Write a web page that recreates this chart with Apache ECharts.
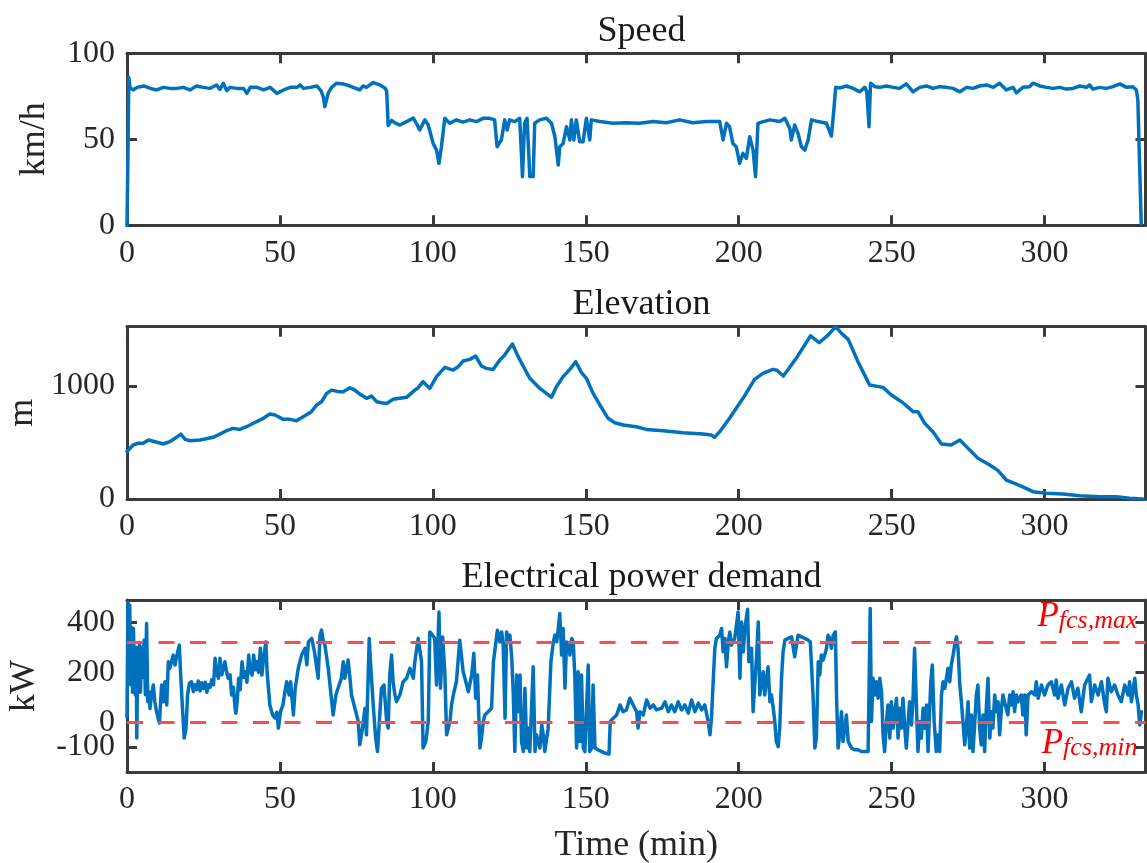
<!DOCTYPE html>
<html>
<head>
<meta charset="utf-8">
<script src="https://cdn.jsdelivr.net/npm/echarts@6.0.0/dist/echarts.min.js"></script>
<style>
  html, body { margin: 0; padding: 0; background: #ffffff; }
  #chart { width: 1147px; height: 863px; }
</style>
</head>
<body>
<div id="chart"></div>
<script>
// ---------------- DATA ----------------
const titles = ['Speed', 'Elevation', 'Electrical power demand'];
const yNames = ['km/h', 'm', 'kW'];
const xName = 'Time (min)';
const xTicks = [0, 50, 100, 150, 200, 250, 300];
const speedTicks = [0, 50, 100];
const elevTicks = [0, 1000];
const powerTicks = [-100, 0, 200, 400];
const pfcsMax = 320;
const pfcsMin = 0;

// [time (min), speed (km/h)]
const speedPoints = [
  [0,0],[0.3,40],[0.6,86],[1.0,80],[2.0,78.7],[3.3,80.2],[5.5,81],[7.6,79.6],[9.7,78.7],[11.9,80.2],
  [14.1,79.6],[16.2,79.6],[18.4,80.2],[20.6,78.7],[22.7,81],[24.9,80.2],[27.1,79.6],[29.3,81.6],[30.4,79],
  [31.5,82.6],[32.6,78.3],[33.7,80.2],[35.9,79.6],[38.1,79.6],[39.2,76.7],[40.3,80.2],[42.5,80.2],[44.7,78.7],
  [46.8,80.2],[49.0,76.7],[51.2,78.7],[53.4,80.2],[55.6,80.2],[56.6,81.6],[57.7,79.6],[59.9,80.2],[62.1,81],
  [63.5,78],[64.2,74.5],[64.7,69],[65.8,77],[66.9,80.2],[68.5,82.6],[70.7,82.2],[72.8,81],[73.9,80.2],
  [76.1,78.7],[77.2,81],[78.3,80.2],[80.5,83],[82.7,81.6],[84.4,79.7],[84.9,78],[85.4,58],[86.5,61],
  [87.6,59.5],[89.2,58.3],[91.4,60.3],[93.6,62.3],[94.6,59.3],[95.7,55.4],[97.4,61.3],[98.5,58.3],
  [100.1,47.6],[101.2,43.7],[102.0,36],[102.8,45.7],[103.9,62.2],[105.5,59.3],[107.7,61.3],[109.9,60],
  [112.1,61.3],[114.3,60.3],[116.4,62.2],[118.6,62.2],[120.2,61.3],[121.0,45.7],[122.4,49.6],[123.5,61.3],
  [124.3,55.4],[125.1,61.3],[126.8,60.3],[128.4,62.2],[129.0,40],[129.3,28.3],[130.0,59.3],[130.8,62.2],
  [131.4,40],[131.7,28.3],[132.8,28.3],[133.3,59.3],[134.9,61.3],[137.1,62.2],[138.8,59.3],[139.9,51.5],
  [141.0,35],[141.5,45.7],[142.6,47.6],[143.7,57.3],[144.8,49.6],[145.3,61.3],[146.1,49.6],[146.9,61.3],
  [148.0,48.6],[149.1,48.6],[150.2,62.2],[151.3,49.6],[151.8,61.3],[154.6,60.3],[158.9,59.3],[163.3,59.6],
  [167.6,59.3],[172.0,60.3],[176.3,59.6],[180.7,61.3],[185.0,59.6],[189.4,60.3],[193.8,60.3],[194.9,49.6],
  [196.0,59.3],[197.0,57.3],[198.1,47.6],[199.2,45.7],[200.3,36],[201.4,41.8],[202.5,38.9],[203.6,51.5],
  [204.7,43.7],[205.5,28.3],[206.3,59.3],[208.0,60.3],[210.2,61.3],[213.4,60.3],[215.1,62.2],[216.7,56.3],
  [217.2,49.6],[218.3,58.3],[219.4,53.4],[220.5,45.7],[221.6,43.7],[222.7,49.6],[223.8,61.3],[226.0,60.3],
  [228.7,59.3],[230.3,51.9],[231.1,67],[231.7,80.2],[233.0,79.8],[235.2,81],[237.4,79.6],[239.6,77.6],
  [241.2,80.2],[241.9,77.6],[242.6,57.3],[243.1,82.6],[244.5,80.6],[246.1,80.2],[248.3,81],[250.5,80.2],
  [252.6,79.6],[254.8,82.2],[257.0,77.6],[259.2,80.2],[261.4,81],[263.5,79.6],[265.7,80.6],[267.9,80.2],
  [270.1,79.6],[272.3,77.6],[274.5,80.2],[276.6,79.6],[278.8,81],[281.0,81.6],[283.2,80.2],[285.3,82.6],
  [287.5,78.7],[289.7,80.2],[290.8,77],[292.9,80.2],[295.1,80.6],[296.2,82.6],[298.4,81],[300.6,80.2],
  [302.8,79.6],[305.0,80.2],[307.1,79.2],[309.3,79.6],[311.5,81],[313.7,80.2],[314.7,81.6],[315.8,79.2],
  [318.0,80.2],[320.2,79.6],[322.4,80.6],[324.6,82.2],[326.8,80.2],[328.9,80.6],[330.0,78.7],[330.5,73],
  [331.6,1]
];

// [time (min), elevation (m)]
const elevationPoints = [
  [0,420],[0.4,433],[2,478],[3.5,493],[5.3,493],[7,522],[9.2,507],[11.9,487],[14,507],[16.2,546],
  [17.6,575],[19,528],[20.6,516],[23.9,522],[28.2,546],[30.4,575],[32.6,605],[34.7,625],[36.9,616],
  [39.1,640],[41.3,670],[44.6,714],[46.7,752],[48.4,743],[51.1,705],[53.3,705],[55.4,693],[57.6,728],
  [60.3,773],[62,832],[63.6,861],[65.3,935],[66.9,964],[69.1,950],[70.7,950],[72.9,985],[74.5,964],
  [76.1,929],[78.3,891],[80,911],[81.6,861],[83.2,852],[84.9,846],[87,882],[89.2,891],[91.4,900],
  [94.1,964],[95.2,985],[96.8,1038],[99,979],[101.2,1083],[103.9,1165],[106.6,1141],[108.3,1171],
  [109.9,1221],[112.1,1236],[114,1265],[115.9,1177],[117.5,1156],[119.7,1147],[121.9,1230],[123.5,1274],
  [124.6,1318],[126,1372],[127.9,1260],[129.5,1177],[131.7,1068],[135,979],[137.1,935],[138.8,900],
  [140.4,994],[142.6,1083],[144.8,1147],[146.7,1215],[148.6,1118],[150.2,1068],[152.4,935],[154.6,832],
  [157.3,714],[159.5,675],[162.2,655],[166.5,640],[169.8,616],[175.3,605],[181.8,587],[188.3,575],
  [191,566],[192.1,546],[193.8,596],[197,714],[201.4,891],[205.2,1059],[207.9,1112],[211.2,1147],
  [212.5,1140],[214.6,1088],[218.8,1245],[223.5,1445],[226.3,1383],[229.2,1451],[231.7,1525],[233.6,1466],
  [235.8,1413],[239,1215],[242.8,1009],[247.2,988],[249.9,920],[253.7,852],[257,773],[258.6,773],
  [260.8,670],[263.5,596],[266.3,487],[269.5,478],[272.3,522],[275,448],[278.2,360],[282.1,301],
  [284.8,251],[287.5,168],[290.2,139],[294,94],[296.2,65],[300.6,50],[306,44],[311.5,29],[318,21],
  [323.5,21],[327.8,6],[332.2,0]
];

// [time (min), power (kW)]
const powerPoints = [
  [0,20],[0.3,480],[0.6,300],[0.9,470],[1.2,150],[1.5,380],[1.8,120],[2.1,376],[2.4,200],[2.7,109],
  [3.0,300],[3.2,-64],[3.5,250],[3.8,150],[4.1,320],[4.4,120],[4.8,300],[5.2,180],[5.6,330],[6.0,110],
  [6.4,396],[6.8,82],[7.3,120],[7.5,55],[8.0,109],[8.6,149],[9.1,82],[9.7,40],[10.6,-4],[11.3,149],
  [11.9,82],[12.4,162],[13.0,69],[13.5,242],[14.0,216],[15.1,269],[15.7,229],[16.2,262],[17.1,309],
  [17.5,202],[18.2,42],[18.7,-64],[19.3,-24],[19.8,109],[20.4,156],[21.1,162],[21.7,122],[22.2,150],
  [22.8,130],[23.3,165],[23.9,125],[24.4,158],[25.0,135],[25.6,160],[26.1,120],[26.7,150],[27.2,140],
  [27.7,170],[28.3,150],[28.8,256],[29.3,200],[29.9,176],[30.4,256],[31.0,190],[31.5,216],[32.0,242],
  [32.6,200],[33.1,176],[33.7,190],[34.2,109],[34.8,140],[35.3,60],[35.6,36],[36.0,80],[36.5,176],
  [37.0,130],[37.6,242],[38.2,180],[38.7,202],[39.2,160],[39.8,269],[40.3,200],[40.9,189],[41.4,269],
  [42.0,210],[42.5,242],[43.0,200],[43.6,296],[44.1,189],[44.6,250],[45.4,322],[45.8,202],[46.7,69],
  [47.6,29],[48.4,16],[49.0,40],[49.5,-24],[50.2,42],[51.0,69],[51.6,120],[52.2,162],[53.0,109],
  [53.5,162],[54.4,29],[55.0,136],[56.0,216],[57.1,269],[58.2,296],[58.8,230],[59.3,322],[60.4,336],
  [61.3,282],[62.5,176],[63.1,349],[63.6,369],[64.1,330],[64.7,309],[65.8,216],[66.6,122],[67.4,29],
  [68.3,109],[69.0,136],[70.1,176],[70.7,242],[71.2,176],[72.3,249],[72.8,189],[73.4,109],[74.5,56],
  [75.6,3],[76.1,-91],[77.0,-24],[77.8,56],[78.3,-51],[79.2,336],[79.6,242],[80.5,69],[81.3,-64],
  [81.9,-118],[82.7,42],[83.2,136],[84.0,149],[84.9,3],[85.4,-24],[85.9,189],[86.5,269],[87.0,162],
  [87.6,109],[88.1,82],[89.2,109],[90.3,162],[91.4,176],[92.5,216],[93.6,176],[94.1,242],[95.2,336],
  [96.3,242],[96.8,-104],[97.7,-78],[98.5,3],[99.0,362],[99.9,349],[100.6,336],[101.2,149],[102.0,442],
  [102.5,136],[103.2,342],[103.9,202],[104.5,-51],[105.6,3],[106.1,69],[106.7,109],[107.7,162],[108.8,329],
  [109.9,202],[110.5,176],[111.6,122],[112.7,189],[113.4,276],[114.0,96],[114.6,189],[115.0,29],
  [115.4,-104],[115.9,-64],[116.5,3],[117.0,29],[118.1,42],[119.2,56],[119.8,242],[120.5,309],[121.1,369],
  [121.9,322],[122.5,362],[123.0,309],[123.6,16],[124.1,362],[124.7,322],[125.2,349],[125.8,256],
  [126.3,109],[126.8,-118],[127.4,189],[127.9,42],[128.5,189],[129.0,-78],[129.6,-118],[130.1,136],
  [130.7,-104],[131.2,-24],[131.7,-118],[132.8,222],[133.4,-118],[133.9,-51],[135.0,-104],[135.6,-11],
  [136.1,-51],[136.6,-118],[137.7,-24],[138.6,242],[139.4,322],[139.9,349],[140.5,322],[141.0,376],
  [141.5,436],[142.1,269],[142.6,376],[143.2,136],[143.7,322],[144.3,309],[144.8,269],[145.4,336],
  [145.9,322],[146.4,189],[147.0,-104],[147.5,202],[148.1,-78],[148.6,189],[149.2,-104],[149.7,-118],
  [150.8,229],[151.3,-118],[151.9,-104],[152.4,149],[153.0,-104],[154.0,-111],[155.2,-118],[156.2,-124],
  [157.6,-128],[158.0,3],[159.0,16],[160.1,29],[161.2,69],[162.2,42],[163.3,49],[164.4,96],[165.5,69],
  [166.6,42],[167.1,-24],[167.7,42],[168.8,29],[169.9,89],[171.0,56],[172.1,69],[173.1,49],[174.8,56],
  [175.9,82],[177.0,42],[178.0,69],[179.1,42],[180.2,82],[181.3,49],[182.4,69],[183.5,36],[184.6,89],
  [185.7,42],[186.8,76],[187.9,49],[188.9,69],[190.0,3],[190.6,-51],[191.1,16],[191.7,176],[192.2,296],
  [192.7,336],[193.8,349],[194.4,376],[194.9,282],[195.5,336],[196.0,222],[196.6,322],[197.1,362],
  [197.6,309],[198.7,336],[199.8,442],[200.4,176],[200.9,402],[201.5,282],[202.0,376],[202.9,453],
  [203.3,242],[204.2,296],[204.7,42],[205.3,162],[205.8,256],[206.4,402],[206.9,109],[207.5,162],
  [208.0,202],[208.5,109],[209.1,176],[209.6,222],[210.2,82],[210.7,109],[211.3,56],[211.8,3],[212.3,-78],
  [212.9,-98],[213.4,-24],[214.0,176],[214.5,282],[215.1,329],[216.2,336],[217.3,342],[218.3,262],
  [219.4,349],[220.5,342],[221.6,336],[222.7,329],[223.4,322],[224.3,109],[224.9,-104],[225.4,-64],
  [226.0,242],[226.5,189],[227.0,269],[227.6,249],[228.1,269],[228.7,296],[229.2,349],[229.8,336],
  [230.3,296],[230.9,349],[231.6,362],[232.0,96],[232.5,-104],[233.0,-51],[233.6,42],[234.1,-78],
  [234.7,-24],[235.2,29],[235.8,-78],[236.9,-104],[237.9,-111],[239.0,-111],[240.1,-118],[241.2,-118],
  [242.3,-118],[243.0,456],[243.4,3],[243.9,176],[244.5,109],[245.0,162],[245.6,96],[246.1,176],
  [246.7,122],[247.2,-51],[247.7,-118],[248.3,3],[248.8,69],[249.4,-64],[249.9,82],[250.5,-24],[251.0,42],
  [251.6,96],[252.1,-64],[252.7,56],[253.2,-24],[253.7,96],[254.3,-24],[254.8,-104],[255.4,3],[255.9,82],
  [256.5,-11],[257.0,96],[257.5,296],[258.1,69],[258.6,-118],[259.2,3],[259.7,-64],[260.3,56],[260.8,-24],
  [261.4,69],[261.9,-118],[262.8,162],[263.3,229],[263.9,3],[264.6,-118],[265.2,-51],[265.7,-118],
  [266.3,109],[266.8,162],[267.4,136],[267.9,176],[268.4,216],[269.0,162],[269.5,229],[270.1,269],
  [270.6,309],[271.2,342],[271.7,296],[272.3,149],[272.8,82],[273.3,3],[273.9,-91],[274.4,-24],[275.0,82],
  [275.5,-104],[276.1,29],[276.6,-118],[277.2,3],[277.7,109],[278.2,149],[278.8,-24],[279.3,-91],
  [279.9,29],[280.4,-118],[281.0,69],[281.5,176],[282.1,-64],[282.6,42],[283.1,-24],[283.7,109],
  [284.2,42],[284.8,82],[285.3,-51],[285.9,56],[286.4,109],[286.9,82],[287.5,82],[288.0,29],[288.6,109],
  [289.1,69],[289.7,122],[290.2,42],[290.8,109],[291.3,82],[291.8,96],[292.4,109],[292.9,29],[293.5,109],
  [294.0,-51],[294.6,109],[295.7,122],[296.8,109],[297.3,162],[297.9,96],[299.0,149],[300.0,109],
  [301.1,149],[302.2,162],[303.3,109],[303.8,169],[304.4,96],[305.5,149],[306.6,69],[307.7,136],
  [308.8,162],[309.8,96],[310.9,136],[312.0,42],[313.1,149],[314.2,176],[314.7,189],[315.3,82],
  [316.4,149],[317.5,109],[318.6,162],[319.7,69],[320.2,42],[320.7,176],[321.8,122],[322.9,149],
  [324.0,109],[325.1,82],[326.2,149],[327.3,109],[327.8,162],[328.4,82],[329.5,176],[330.0,109],
  [330.6,69],[331.1,-11],[331.7,42]
];

// ---------------- CHART ----------------
const FONT = '"Liberation Serif", "Times New Roman", serif';
const AX = '#3a3a3a';
const TXT = '#262626';
const BLUE = '#0072BD';
const RED_LINE = '#ff4b4b';
const RED_TXT = '#ff0000';
const X_MAX = 333;

const gridsPos = [
  { top: 53.3, height: 172 },
  { top: 326.7, height: 172.3 },
  { top: 600, height: 172 }
];
const yRanges = [
  { min: 0, max: 100, interval: 50, ticks: speedTicks, gap: 74 },
  { min: 0, max: 1525, interval: 1000, ticks: elevTicks, gap: 84 },
  { min: -200, max: 490, interval: 100, ticks: powerTicks, gap: 84 }
];

const chart = echarts.init(document.getElementById('chart'), null, { renderer: 'canvas' });

const grid = gridsPos.map(g => ({
  left: 127, right: 1.5, top: g.top, height: g.height,
  containLabel: false, outerBoundsMode: 'none'
}));

// The axis minimum is added as an empty first label/tick (hidden, sits on the frame),
// so ECharts' min-label overlap check does not drop the "0" label next to "-100".
const withMin = (r) => (r.ticks[0] > r.min ? [r.min].concat(r.ticks) : r.ticks.slice());
const labelFor = (r) => (v => (r.ticks.indexOf(v) >= 0 ? String(v) : ''));

const xAxis = [];
const yAxis = [];
gridsPos.forEach((g, i) => {
  ['bottom', 'top'].forEach(pos => {
    xAxis.push({
      type: 'value', gridIndex: i, position: pos, min: 0, max: X_MAX, interval: 50,
      axisLine: { show: true, onZero: false, lineStyle: { color: AX, width: 3 } },
      axisTick: { show: true, inside: true, length: 10, customValues: xTicks, lineStyle: { color: AX, width: 3 } },
      axisLabel: {
        show: pos === 'bottom', customValues: xTicks, margin: 12, formatter: v => String(v),
        hideOverlap: false, showMinLabel: true, showMaxLabel: true,
        fontSize: 32, fontFamily: FONT, color: TXT
      },
      splitLine: { show: false },
      name: (pos === 'bottom' && i === 2) ? xName : '',
      nameLocation: 'middle', nameGap: 56,
      nameTextStyle: { fontSize: 36, fontFamily: FONT, color: TXT }
    });
  });
  const r = yRanges[i];
  const vals = withMin(r);
  const padded = vals.length > r.ticks.length;
  ['left', 'right'].forEach(pos => {
    yAxis.push({
      type: 'value', gridIndex: i, position: pos, min: r.min, max: r.max, interval: r.interval,
      axisLine: { show: true, onZero: false, lineStyle: { color: AX, width: 3 } },
      axisTick: { show: true, inside: true, length: 10, customValues: vals, lineStyle: { color: AX, width: 3 } },
      axisLabel: {
        show: pos === 'left', customValues: vals, margin: 12, formatter: labelFor(r),
        hideOverlap: false, showMinLabel: !padded, showMaxLabel: true,
        fontSize: 32, fontFamily: FONT, color: TXT
      },
      splitLine: { show: false },
      name: pos === 'left' ? yNames[i] : '',
      nameLocation: 'middle', nameGap: r.gap, nameRotate: 90,
      nameTextStyle: { fontSize: 36, fontFamily: FONT, color: TXT }
    });
  });
});

const title = titles.map((t, i) => ({
  text: t, left: 636.5, textAlign: 'center', top: gridsPos[i].top - 45,
  textStyle: { fontSize: 36, fontFamily: FONT, fontWeight: 'normal', color: '#1a1a1a' }
}));

const lineCommon = {
  type: 'line', showSymbol: false, symbol: 'none', animation: false, silent: true,
  lineStyle: { color: BLUE, width: 3.5, join: 'round', cap: 'round' },
  itemStyle: { color: BLUE }
};

const pLabel = (sub, pos, dy) => ({
  show: true, position: pos, distance: [8, dy],
  formatter: '{p|P}{s|' + sub + '}',
  rich: {
    p: { fontFamily: FONT, fontStyle: 'italic', fontSize: 35, color: RED_TXT, verticalAlign: 'bottom', lineHeight: 36 },
    s: { fontFamily: FONT, fontStyle: 'italic', fontSize: 26, color: RED_TXT, verticalAlign: 'bottom', lineHeight: 27 }
  }
});

const series = [
  Object.assign({}, lineCommon, { name: 'Speed', xAxisIndex: 0, yAxisIndex: 0, data: speedPoints }),
  Object.assign({}, lineCommon, { name: 'Elevation', xAxisIndex: 2, yAxisIndex: 2, data: elevationPoints }),
  Object.assign({}, lineCommon, {
    name: 'Power', xAxisIndex: 4, yAxisIndex: 4, data: powerPoints,
    markLine: {
      silent: true, symbol: 'none', animation: false, z: 10,
      lineStyle: { color: RED_LINE, width: 3, type: [16, 15.5] },
      data: [
        { yAxis: pfcsMax, label: pLabel('fcs,max', 'insideEndTop', 8) },
        { yAxis: pfcsMin, label: pLabel('fcs,min', 'insideEndBottom', 3) }
      ]
    }
  })
];

chart.setOption({
  backgroundColor: '#ffffff',
  animation: false,
  title, grid, xAxis, yAxis, series
});
</script>
</body>
</html>
